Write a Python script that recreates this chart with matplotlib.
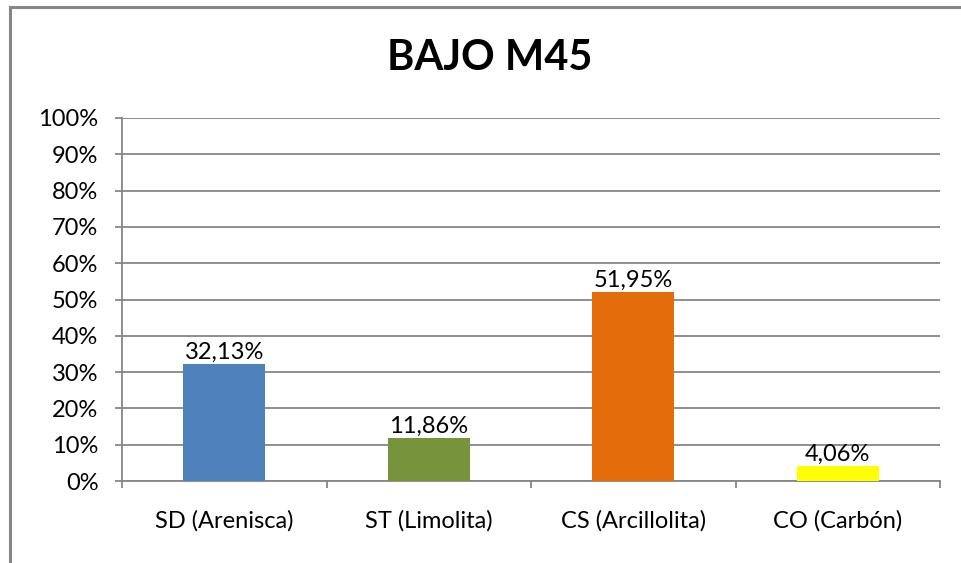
import numpy as np
import matplotlib.pyplot as plt
from matplotlib.lines import Line2D

categories = ["SD (Arenisca)", "ST (Limolita)", "CS (Arcillolita)", "CO (Carbón)"]
values = [32.13, 11.86, 51.95, 4.06]
colors = ["#4F81BD", "#77933C", "#E46C0A", "#FFFF00"]
yticks = [0, 10, 20, 30, 40, 50, 60, 70, 80, 90, 100]

plt.rcParams['font.family'] = ['Lato', 'DejaVu Sans']
W, H = 961, 563
fig = plt.figure(figsize=(W / 100, H / 100), dpi=100)
ax = fig.add_axes([122 / W, 1 - 481 / H, (940 - 122) / W, (481 - 118) / H])

x = np.arange(len(categories))
ax.bar(x, values, width=0.4, color=colors, zorder=3)
for xi, v in zip(x, values):
    ax.text(xi, v + 0.3, f"{v:.2f}%".replace(".", ","), ha="center", va="bottom",
            fontsize=17, color="black", zorder=4)

ax.set_xlim(-0.5, len(categories) - 0.5)
ax.set_ylim(0, 100)
ax.set_yticks(yticks)
ax.set_yticklabels([f"{t}%" for t in yticks], fontsize=17)
ax.yaxis.grid(True, color="#868686", linewidth=1.3, zorder=0)
ax.tick_params(axis="y", length=5, width=1.3, color="#868686", pad=12)
ax.set_xticks(x)
ax.set_xticklabels(categories, fontsize=17)
ax.set_xticks(np.arange(-0.5, len(categories)), minor=True)
ax.tick_params(axis="x", which="major", length=0, pad=21)
ax.tick_params(axis="x", which="minor", length=5, width=1.3, color="#868686")
for s in ["top", "right"]:
    ax.spines[s].set_visible(False)
for s in ["left", "bottom"]:
    ax.spines[s].set_color("#868686")
    ax.spines[s].set_linewidth(1.3)

fig.text(490 / W, 1 - 58 / H, "BAJO M45", ha="center", va="center",
         fontsize=30, fontweight="bold")

# chart area border (left and top visible)
fig.add_artist(Line2D([9.5 / W, 9.5 / W], [0, 1 - 6.5 / H], color="#868686", lw=2.2,
                      transform=fig.transFigure))
fig.add_artist(Line2D([9.5 / W, 1], [1 - 6.5 / H, 1 - 6.5 / H], color="#868686", lw=2.2,
                      transform=fig.transFigure))

fig.savefig("out.png", dpi=100)
